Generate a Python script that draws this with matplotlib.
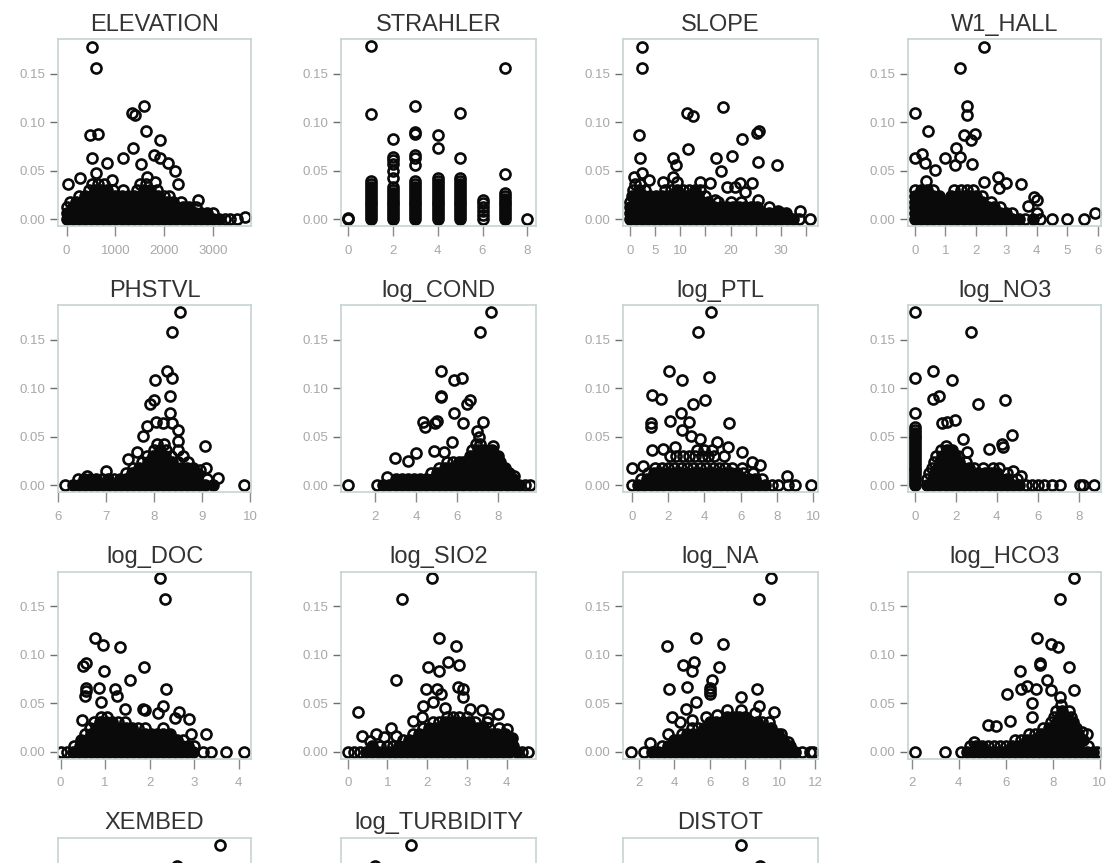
import matplotlib
matplotlib.use("Agg")
import matplotlib.pyplot as plt
import numpy as np

# Each table maps a leverage value (y) to the predictor values (x) read at that height.
ELEVATION = {
    0.0: [0,125,250,375,500,625,750,875,1000,1125,1250,1375,1500,1625,1750,1875,2000,2125,2250,2375,2500,2625,2750,2875,3000,3125,3250,3340,3500],
    0.0017: [3654],
    0.006: [0,125,250,375,500,625,750,875,1000,1125,1250,1375,1500,1625,1750,1875,2000,2125,2250,2375,2500,2625,2750,2875,3000],
    0.012: [0,125,250,375,500,625,750,875,1000,1125,1250,1375,1500,1625,1750,1875,2000,2125,2250,2375,2500,2650],
    0.018: [60,185,310,435,560,685,810,935,1060,1185,1310,1435,1560,1685,1810,1935,2060,2185,2350],
    0.024: [250,375,500,625,750,875,1000,1125,1250,1375,1500,1625,1750,1875,2000,2100],
    0.03: [450,575,700,825,950,1150,1450,1575,1700,1850],
    0.036: [33,520,640,760,1500,1620,2287],
    0.0385: [1809], 0.040: [922], 0.042: [272], 0.0436: [1639], 0.047: [600],
    0.0196: [2697], 0.0498: [2219], 0.0574: [2082], 0.0567: [1525], 0.058: [832],
    0.0625: [518], 0.0629: [1912], 0.0632: [1147], 0.066: [1789], 0.0735: [1352],
    0.0814: [1912], 0.0862: [477], 0.0876: [648], 0.091: [1625], 0.1072: [1400],
    0.1096: [1345], 0.1165: [1584], 0.1557: [607], 0.1777: [518],
}

STRAHLER = {
    0.0: [0,1,2,3,4,5,6,7,8], 0.001: [0],
    0.003: [1,2,3,4,5,7], 0.004: [6], 0.006: [1,2,3,4,5,7], 0.008: [6], 0.009: [1,2,3,4,5,7],
    0.012: [1,2,3,4,5,6,7], 0.015: [1,2,3,4,5,7], 0.016: [6], 0.018: [1,2,3,4,5,7],
    0.020: [6], 0.021: [1,2,3,4,5,7], 0.024: [1,2,3,4,5,7], 0.027: [1,2,3,4,5,7],
    0.030: [1,2,3,4,5], 0.033: [1,2,3,4,5], 0.036: [1,3,4,5], 0.039: [1,3,4,5],
    0.042: [2,4,5], 0.046: [7], 0.049: [2], 0.056: [3], 0.057: [2], 0.061: [2],
    0.0625: [3,5], 0.064: [2], 0.066: [3], 0.0729: [4], 0.083: [2], 0.0866: [4],
    0.088: [3], 0.09: [3], 0.108: [1], 0.109: [5], 0.1165: [3], 0.156: [7], 0.178: [1],
}

SLOPE = {
    0.0: [0,1.2,2.4,3.6,4.8,6,7.2,8.4,9.6,10.8,12,13.2,14.4,15.6,16.8,18,19.2,20.4,21.6,22.8,24,25.2,26.4,27.6,28.8,30,31.2,32.4,33.6,35.9],
    0.006: [0,1.2,2.4,3.6,4.8,6,7.2,8.4,9.6,10.8,12,13.2,14.4,15.6,16.8,18,19.2,20.4,21.6,22.8,24,25.2,26.4,27.6,28.8,30,31],
    0.012: [0,1.2,2.4,3.6,4.8,6,7.2,8.4,9.6,10.8,12,13.2,14.4,15.6,16.8,18,19.2,20.4,21.6,22.8,24,25.2,27.6],
    0.018: [0,1.2,2.4,3.6,4.8,6,7.2,8.4,9.6,10.8,12,13.2,14.4,15.6,17.5,20,22],
    0.024: [0.3,1.5,2.7,3.9,5.1,6.3,7.5,8.7,9.9,11.1,12.3,13.5,15],
    0.03: [0.5,1.7,3,7,8.2,9.4,10.6,11.8,13,14],
    0.036: [1,2],
    0.0086: [29.4,33.9], 0.0196: [25.5,16.9], 0.023: [5], 0.028: [22.9], 0.0326: [19.2], 0.033: [20.9],
    0.0368: [15.9,21.9,24.2], 0.038: [13.9], 0.0385: [6.6,9.3], 0.040: [3.8], 0.0436: [0.8,8.6],
    0.047: [2.3], 0.0498: [18.1], 0.0557: [9.1], 0.056: [29.3], 0.0584: [25.5], 0.0625: [2],
    0.0632: [8.6,17.2], 0.065: [20.2], 0.0725: [11.5], 0.0821: [22.2], 0.0863: [1.85],
    0.0883: [25.2], 0.091: [25.6], 0.1065: [12.5], 0.109: [11.3], 0.1158: [18.4], 0.156: [2.45], 0.1777: [2.45],
}

W1_HALL = {
    0.0: [0,0.2,0.4,0.6,0.8,1,1.2,1.4,1.6,1.8,2,2.2,2.4,2.6,2.8,3,3.2,3.4,3.6,3.86,4.1,4.48,4.99,5.54],
    0.006: [0,0.2,0.4,0.6,0.8,1,1.2,1.4,1.6,1.8,2,2.2,2.4,2.6,2.8,3,3.2,4,5.89],
    0.012: [0,0.2,0.4,0.6,0.8,1,1.2,1.4,1.6,1.8,2,2.2,2.4,2.6,2.8],
    0.018: [0,0.2,0.4,0.6,0.8,1,1.2,1.4,1.6,1.8,2,2.2,2.5],
    0.024: [0,0.2,0.4,0.6,0.8,1.2,1.4,1.6,1.8,2,2.2],
    0.03: [0,0.2,0.4,0.6,1.3,1.5,1.7,1.9],
    0.0134: [3.7], 0.0196: [4], 0.023: [3.91], 0.0316: [2.76], 0.036: [3.47], 0.0368: [2.98],
    0.0385: [2.26], 0.0392: [0.37], 0.043: [2.73], 0.0505: [0.67], 0.0557: [1.33], 0.0567: [1.86],
    0.0574: [0.34], 0.0625: [1], 0.0632: [0], 0.0643: [1.49], 0.0667: [0.25], 0.0729: [1.36],
    0.0814: [1.85], 0.0866: [1.6], 0.0876: [1.99], 0.0907: [0.45], 0.107: [1.71], 0.109: [0],
    0.1165: [1.71], 0.156: [1.49], 0.1777: [2.26],
}

PHSTVL = {
    0.0: [6.14,6.3,6.425,6.55,6.675,6.8,6.925,7.05,7.175,7.3,7.425,7.55,7.675,7.8,7.925,8.05,8.175,8.3,8.425,8.55,8.675,8.8,8.925,9.05,9.23,9.88],
    0.006: [6.4,6.525,6.65,6.775,6.9,7.025,7.15,7.275,7.4,7.525,7.65,7.775,7.9,8.025,8.15,8.275,8.4,8.525,8.65,8.775,8.9,9.1],
    0.012: [7.4,7.525,7.65,7.775,7.9,8.025,8.15,8.275,8.4,8.525,8.65,8.775,8.9],
    0.018: [7.55,7.675,7.8,7.925,8.05,8.175,8.3,8.425,8.55,8.675,8.8],
    0.024: [7.75,7.875,8,8.125,8.25,8.375,8.5,8.7],
    0.03: [7.85,7.975,8.1,8.225,8.35,8.6],
    0.036: [8,8.125,8.25,8.5],
    0.042: [8.05,8.2],
    0.0072: [9.33], 0.0089: [6.6], 0.0148: [6.99], 0.0155: [8.95], 0.0175: [9.09], 0.0268: [7.46],
    0.0337: [7.65], 0.0405: [9.06], 0.0457: [8.5], 0.0509: [7.77], 0.057: [8.5], 0.0605: [7.84],
    0.0639: [8.19,8.38], 0.0646: [8.03], 0.0742: [8.33], 0.0835: [7.91], 0.088: [7.99], 0.0914: [8.33],
    0.1086: [8.01], 0.1103: [8.38], 0.1179: [8.27], 0.1574: [8.36], 0.1787: [8.54],
}

LOG_COND = {
    0.0: [0.7,2.11,2.4,2.7,3,3.3,3.6,3.9,4.2,4.5,4.8,5.1,5.4,5.7,6,6.3,6.6,6.9,7.2,7.5,7.8,8.1,8.4,8.7,9,9.3,9.55],
    0.006: [3,3.3,3.6,3.9,4.2,4.5,4.8,5.1,5.4,5.7,6,6.3,6.6,6.9,7.2,7.5,7.8,8.1,8.4,8.7],
    0.012: [4.7,5,5.3,5.6,5.9,6.2,6.5,6.8,7.1,7.4,7.7,8,8.3,8.5],
    0.018: [5.1,5.4,5.7,6,6.3,6.6,6.9,7.2,7.5,7.8,8.1,8.3],
    0.024: [5.5,5.8,6.1,6.3,6.5,6.8,7.1,7.4,7.7,8,8.09],
    0.03: [6.6,6.9,7.2,7.5,7.8,8],
    0.036: [6.7,7,7.3,7.7],
    0.042: [6.9,7.1],
    0.008: [2.6], 0.0096: [8.74], 0.0244: [3.62], 0.0275: [2.97], 0.033: [4], 0.0344: [5.36],
    0.0354: [4.87], 0.0405: [7.76], 0.0447: [5.73], 0.0491: [7.08], 0.056: [6.98], 0.0595: [4.44],
    0.0639: [4.92,6.3], 0.0646: [7.23], 0.0653: [4.32], 0.0656: [5], 0.0739: [5.82], 0.0835: [6.46],
    0.088: [6.63], 0.0904: [5.2], 0.0914: [5.2], 0.1086: [5.85], 0.1103: [6.25], 0.1172: [5.2],
    0.1574: [7.11], 0.1787: [7.65],
}

LOG_PTL = {
    0.0: [0,0.35,0.7,1.05,1.4,1.75,2.1,2.45,2.8,3.15,3.5,3.85,4.2,4.55,4.9,5.25,5.6,5.95,6.3,6.65,7,7.35,7.7,8.05,8.59,8.99,9.85],
    0.006: [0.5,0.85,1.2,1.55,1.9,2.25,2.6,2.95,3.3,3.65,4,4.35,4.7,5.05,5.4,5.75,6.1,6.45,6.8,7.2],
    0.012: [0.9,1.25,1.6,1.95,2.3,2.65,3,3.35,3.7,4.05,4.4,4.75,5.1,5.45,5.8,6.15,6.7],
    0.018: [1.3,1.65,2,2.35,2.7,3.05,3.4,3.75,4.1,4.45,4.8,5.15,5.5,6.1],
    0.024: [1.6,1.95,2.3,2.65,3,3.35,3.7,4.05,4.4,4.75,5.1,5.6],
    0.03: [2.1,2.45,2.8,3.15,3.5,3.85,4.2,4.55,5.1],
    0.0089: [8.53], 0.0175: [0], 0.02: [0.64], 0.0206: [7.06], 0.024: [6.6], 0.0344: [6.06],
    0.036: [1.1,3.6,4,4.4], 0.0371: [1.74], 0.0388: [2.39,5.32], 0.044: [4.68], 0.0474: [3.76], 0.0509: [3.27],
    0.0567: [2.75], 0.0595: [1.05], 0.0639: [1.05], 0.0643: [5.36], 0.0646: [3.17], 0.0656: [2.11],
    0.0739: [2.7], 0.0835: [3.36], 0.0876: [4.04], 0.0887: [1.61], 0.0928: [1.1], 0.1086: [2.75],
    0.111: [4.26], 0.1172: [2.07], 0.1574: [3.63], 0.1787: [4.37],
}

LOG_NO3 = {
    0.0: [0,0.6,0.9,1.2,1.5,1.8,2.1,2.4,2.7,3,3.3,3.6,3.9,4.2,4.5,4.8,5.1,5.4,5.7,6,6.3,6.67,7.1,8.08,8.2,8.73],
    0.003: [0], 0.006: [0,0.6,0.9,1.2,1.5,1.8,2.1,2.4,2.7,3,3.3,3.6,3.9,4.2,4.5,5],
    0.009: [0], 0.012: [0,0.7,1,1.3,1.6,1.9,2.2,2.5,2.8,3.1,3.4,3.7,4,4.5],
    0.015: [0], 0.018: [0,0.85,1.15,1.45,1.75,2.05,2.35,2.65,2.9,3.34,3.8,4.1],
    0.021: [0], 0.024: [0,0.95,1.25,1.55,1.85,2.15,2.5],
    0.027: [0], 0.03: [0,1.05,1.35,1.65,1.95,2.1],
    0.033: [0], 0.036: [0,1.3,1.55,1.8],
    0.039: [0], 0.04: [1.5], 0.042: [0], 0.045: [0], 0.048: [0], 0.051: [0], 0.054: [0], 0.057: [0], 0.06: [0],
    0.0096: [5.2], 0.0148: [4.8], 0.0344: [2.53], 0.0371: [3.62], 0.0388: [4.31], 0.0423: [4.27],
    0.0474: [2.34], 0.0515: [4.75], 0.0639: [1.31], 0.0646: [1.56], 0.0674: [1.96], 0.0739: [0],
    0.0835: [3.1], 0.0873: [4.38], 0.0887: [0.91], 0.0921: [1.17], 0.1086: [1.83], 0.1103: [0.03],
    0.1172: [0.91], 0.1574: [2.76], 0.1787: [0.03],
}

LOG_DOC = {
    0.0: [0,0.135,0.27,0.405,0.54,0.675,0.81,0.945,1.08,1.215,1.35,1.485,1.62,1.755,1.89,2.025,2.16,2.295,2.43,2.565,2.7,2.835,2.97,3.2,3.39,3.71,4.13],
    0.006: [0.3,0.435,0.57,0.705,0.84,0.975,1.11,1.245,1.38,1.515,1.65,1.785,1.92,2.055,2.19,2.325,2.46,2.595,2.73,2.865,3],
    0.012: [0.45,0.585,0.72,0.855,0.99,1.125,1.26,1.395,1.53,1.665,1.8,1.935,2.07,2.205,2.34,2.475,2.61,2.75],
    0.018: [0.55,0.685,0.82,0.955,1.09,1.225,1.36,1.495,1.63,1.765,1.9,2.035,2.17,2.305,2.45,2.94,3.27],
    0.024: [0.65,0.785,0.92,1.055,1.19,1.325,1.46,1.595,1.73,1.9,2.31],
    0.03: [0.75,0.885,1.02,1.155,1.29,1.45],
    0.036: [0.9,1.05],
    0.0326: [0.47], 0.0337: [2.89], 0.0344: [2.57], 0.0395: [2.19], 0.0412: [2.66], 0.043: [1.9],
    0.044: [1.45,1.86], 0.0474: [2.31], 0.0515: [0.9], 0.0574: [1.27], 0.0577: [0.55], 0.0619: [0.57],
    0.0643: [2.36], 0.0646: [1.22], 0.065: [0.87], 0.066: [0.57], 0.0739: [1.56], 0.0835: [0.97],
    0.0876: [1.87], 0.0883: [0.51], 0.091: [0.57], 0.1082: [1.33], 0.11: [0.96], 0.1168: [0.77],
    0.1574: [2.35], 0.179: [2.23],
}

LOG_SIO2 = {
    0.0: [0,0.15,0.3,0.45,0.6,0.75,0.9,1.05,1.2,1.35,1.5,1.65,1.8,1.95,2.1,2.25,2.4,2.55,2.7,2.85,3,3.15,3.3,3.45,3.6,3.75,3.9,4.05,4.25,4.38,4.55],
    0.006: [0.6,0.8,1,1.15,1.3,1.45,1.6,1.75,1.9,2.05,2.2,2.35,2.5,2.65,2.8,2.95,3.1,3.25,3.4,3.55,3.7,3.85,4,4.15],
    0.012: [1.4,1.55,1.7,1.85,2,2.15,2.3,2.45,2.6,2.75,2.9,3.05,3.2,3.35,3.5,3.65,3.8,3.95,4.05],
    0.018: [1.65,1.8,1.95,2.1,2.25,2.4,2.55,2.7,2.85,3,3.15,3.3,3.45,3.6,3.75,3.95],
    0.024: [1.9,2.05,2.2,2.35,2.5,2.65,2.8,2.95,3.1,3.25,3.4,3.55,3.8],
    0.03: [2.15,2.3,2.45,2.6,2.75,2.9,3.05,3.2,3.5],
    0.036: [1.86,2.5,2.65,2.8,3],
    0.011: [0.56], 0.0137: [4.13], 0.0148: [0.91], 0.0155: [0.35,1.21], 0.0182: [0.71], 0.0234: [4],
    0.0247: [1.09], 0.031: [1.65], 0.0345: [3.54], 0.0388: [3.79], 0.0405: [0.27],
    0.0423: [3.39], 0.044: [3.09], 0.0447: [2.45], 0.0471: [1.9], 0.0515: [2.14], 0.056: [2.89],
    0.0591: [2.36], 0.0643: [1.96,2.24], 0.0646: [2.89], 0.067: [2.78], 0.0739: [1.21], 0.0832: [2.31],
    0.0876: [2.01], 0.0887: [2.81], 0.0924: [2.53], 0.1093: [2.73], 0.1168: [2.31], 0.1574: [1.36], 0.1787: [2.11],
}

LOG_NA = {
    0.0: [1.54,2.28,2.7,3.04,3.38,3.72,4.06,4.4,4.74,5.08,5.42,5.76,6.1,6.44,6.78,7.12,7.46,7.8,8.14,8.48,8.82,9.16,9.5,9.84,10.18,10.52,10.86,11.27,11.72,11.86],
    0.006: [3.3,3.64,3.98,4.32,4.66,5,5.34,5.68,6.02,6.36,6.7,7.04,7.38,7.72,8.06,8.4,8.74,9.08,9.42,9.76,10.1,10.6],
    0.012: [4,4.34,4.68,5.02,5.36,5.7,6.04,6.38,6.72,7.06,7.4,7.74,8.08,8.42,8.76,9.1,9.44,9.78,10.2],
    0.018: [3.63,4.4,4.74,5.08,5.42,5.76,6.1,6.44,6.78,7.12,7.46,7.8,8.14,8.48,8.82,9.16,9.5,9.9,10.08],
    0.024: [5,5.34,5.68,6.02,6.36,6.7,7.04,7.38,7.72,8.06,8.4,8.74,9.08,9.5],
    0.03: [4.32,6,6.34,6.68,7.02,7.36,7.7,8.04,8.38,8.72,9,9.38],
    0.036: [5.81,7,7.35,7.7,8],
    0.0086: [2.6], 0.0103: [10.47], 0.0326: [4.98], 0.0354: [3.87], 0.0378: [6.4], 0.0395: [8.59],
    0.0405: [9.64], 0.043: [7,7.79], 0.044: [4.66], 0.0474: [8.79], 0.0509: [5.21], 0.0567: [7.79],
    0.0591: [6], 0.0619: [6], 0.0643: [3.69,8.69], 0.0653: [6], 0.067: [4.72], 0.0739: [6.11],
    0.0832: [4.98], 0.0869: [6.56], 0.0887: [4.46], 0.0928: [5.12], 0.1089: [3.59], 0.1107: [6.74],
    0.1168: [5.21], 0.1574: [8.81], 0.179: [9.5],
}

LOG_HCO3 = {
    0.0: [2.12,3.41,4.1,4.355,4.61,4.865,5.12,5.375,5.63,5.885,6.14,6.395,6.65,6.905,7.16,7.415,7.67,7.925,8.18,8.435,8.69,8.945,9.2,9.455,9.71,9.9],
    0.006: [4.5,4.755,5.01,5.265,5.52,5.775,6.03,6.285,6.54,6.795,7.05,7.305,7.56,7.815,8.07,8.325,8.58,8.835,9.09,9.5],
    0.012: [6.4,6.655,6.91,7.165,7.42,7.675,7.93,8.185,8.44,8.695,8.95,9.3],
    0.018: [7,7.255,7.51,7.765,8.02,8.275,8.53,8.785,9.1,9.48],
    0.024: [7.6,7.855,8.11,8.365,8.62,8.875,9],
    0.03: [7.95,8.2,8.45,8.7,8.85],
    0.036: [8.05,8.3,8.55,8.8],
    0.042: [8.15,8.4,8.7],
    0.048: [8.35],
    0.0096: [4.67], 0.0206: [9.26], 0.0258: [5.59], 0.0275: [5.26], 0.0316: [6.18], 0.0351: [7.11],
    0.0505: [7.11], 0.0567: [8.33], 0.0591: [6.04], 0.0636: [7.93,8.89], 0.0643: [7.29], 0.0646: [6.67],
    0.0677: [6.89], 0.0739: [7.78], 0.0832: [6.59], 0.0869: [8.71], 0.0894: [7.45], 0.091: [7.45],
    0.1082: [8.22], 0.111: [7.93], 0.1168: [7.33], 0.1574: [8.3], 0.179: [8.89],
}

XEMBED = {0.156: [62.7], 0.178: [86.7]}
LOG_TURBIDITY = {0.156: [-0.58], 0.178: [1.44]}
DISTOT = {0.156: [3453], 0.178: [2947]}

TITLES = ["ELEVATION", "STRAHLER", "SLOPE", "W1_HALL",
          "PHSTVL", "log_COND", "log_PTL", "log_NO3",
          "log_DOC", "log_SIO2", "log_NA", "log_HCO3",
          "XEMBED", "log_TURBIDITY", "DISTOT"]
TABLES = [ELEVATION, STRAHLER, SLOPE, W1_HALL,
          PHSTVL, LOG_COND, LOG_PTL, LOG_NO3,
          LOG_DOC, LOG_SIO2, LOG_NA, LOG_HCO3,
          XEMBED, LOG_TURBIDITY, DISTOT]
XLIMS = [(-178, 3777), (-0.33, 8.39), (-1.4, 37.4), (-0.22, 6.1),
         (5.99, 10.02), (0.346, 9.83), (-0.48, 10.26), (-0.33, 9.08),
         (-0.06, 4.28), (-0.17, 4.74), (1.07, 12.17), (1.84, 10.06),
         (-4, 104), (-2.5, 8.5), (-200, 5000)]
XTICKS = [[0, 1000, 2000, 3000], [0, 2, 4, 6, 8], [0, 5, 10, 15, 20, 25, 30, 35], [0, 1, 2, 3, 4, 5, 6],
          [6, 7, 8, 9, 10], [2, 4, 6, 8], [0, 2, 4, 6, 8, 10], [0, 2, 4, 6, 8],
          [0, 1, 2, 3, 4], [0, 1, 2, 3, 4], [2, 4, 6, 8, 10, 12], [2, 4, 6, 8, 10],
          [], [], []]
XLABELS = [["0", "1000", "2000", "3000"], ["0", "2", "4", "6", "8"],
           ["0", "5", "10", "", "20", "", "30", ""], ["0", "1", "2", "3", "4", "5", "6"],
           ["6", "7", "8", "9", "10"], ["2", "4", "6", "8"], ["0", "2", "4", "6", "8", "10"], ["0", "2", "4", "6", "8"],
           ["0", "1", "2", "3", "4"], ["0", "1", "2", "3", "4"], ["2", "4", "6", "8", "10", "12"], ["2", "4", "6", "8", "10"],
           [], [], []]
YTICKS = [0.0, 0.05, 0.10, 0.15]
YLABELS = ["0.00", "0.05", "0.10", "0.15"]
YLIM = (-0.0072, 0.1856)

W, H = 1106, 863
COL_EDGES = [(58, 251), (341, 536), (623, 818), (908, 1101)]
ROW_TOPS = [39, 305, 571.5, 837.5]
AXES_H = 187
SPINE = "#c6d3d3"
INK = "#0a0a0a"

plt.rcParams["font.family"] = ["Liberation Sans", "DejaVu Sans"]
fig = plt.figure(figsize=(W / 100, H / 100), dpi=100)

for i, (title, table) in enumerate(zip(TITLES, TABLES)):
    left, right = COL_EDGES[i % 4]
    top = ROW_TOPS[i // 4]
    ax = fig.add_axes([left / W, 1 - (top + AXES_H) / H, (right - left) / W, AXES_H / H])
    xs, ys = [], []
    for y, values in table.items():
        for x in values:
            xs.append(x)
            ys.append(y)
    ax.set_xlim(*XLIMS[i])
    ax.set_ylim(*YLIM)

    # Where rings overplot heavily the reference reads as solid ink.
    xa, ya = np.array(xs, float), np.array(ys, float)
    pts = ax.transData.transform(np.column_stack([xa, ya]))
    dist = np.hypot(pts[:, 0, None] - pts[:, 0], pts[:, 1, None] - pts[:, 1])
    near = (dist < 9.2).sum(axis=1) - 1
    solid = (near >= 5) | ((ya == 0) & (near >= 3))

    ax.plot(xa[~solid], ya[~solid], linestyle="none", marker="o", markersize=7.2, markerfacecolor="none",
            markeredgecolor=INK, markeredgewidth=1.9)
    ax.plot(xa[solid], ya[solid], linestyle="none", marker="o", markersize=7.2, markerfacecolor=INK,
            markeredgecolor=INK, markeredgewidth=1.9)
    ax.set_xticks(XTICKS[i])
    ax.set_xticklabels(XLABELS[i])
    ax.set_yticks(YTICKS)
    ax.set_yticklabels(YLABELS if i < 12 else ["", "", "", ""])
    ax.tick_params(axis="x", length=7, width=1, color="#8a8a8a", pad=6.5, labelsize=9.5, labelcolor="#a8a8a8")
    ax.tick_params(axis="y", length=5.5, width=1, color="#6f6f6f", pad=3.5, labelsize=9.5, labelcolor="#a8a8a8")
    for s in ax.spines.values():
        s.set_color(SPINE)
        s.set_linewidth(1.2)
    ax.set_title(title, fontsize=17, color="#333333", pad=6)

fig.savefig("out.png", dpi=100)
